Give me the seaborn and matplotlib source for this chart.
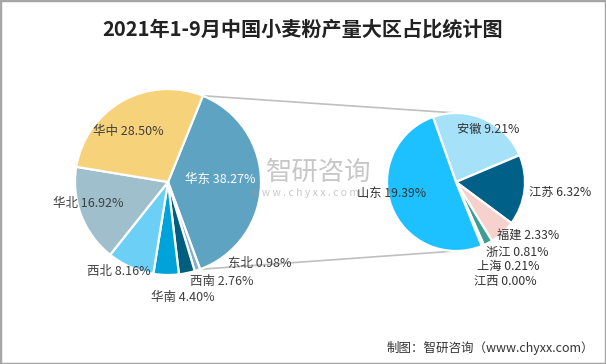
import numpy as np
import matplotlib
matplotlib.use("Agg")
import matplotlib.pyplot as plt
import seaborn as sns
from matplotlib.patches import Rectangle

# data
regions = ["华东", "东北", "西南", "华南", "西北", "华北", "华中"]
region_share = [38.27, 0.98, 2.76, 4.40, 8.16, 16.92, 28.50]
region_colors = ["#5FA3C2", "#86B0C6", "#005E7F", "#00A2DA", "#6BCFF6", "#9FBFCD", "#F6D27B"]

provinces = ["安徽", "江苏", "福建", "浙江", "上海", "江西", "山东"]
province_share = [9.21, 6.32, 2.33, 0.81, 0.21, 0.00, 19.39]
province_colors = ["#A6E1FA", "#006088", "#F7D1CB", "#3A9E93", "#9DC3E6", "#C9C9C9", "#1EC1FF"]

# label anchor positions in pixels (layout only)
region_label_xy = [(220, 179), (260, 263), (222, 281), (183, 297), (119, 271), (88, 204), (128, 132)]
province_label_xy = [(488, 129), (560, 192), (528, 235), (517, 252), (508, 266), (505, 282), (392, 194)]

W, H = 606, 364
sns.set_theme(style="white")
plt.rcParams["font.family"] = ["Noto Sans CJK SC", "DejaVu Sans"]

fig = plt.figure(figsize=(W / 100, H / 100), dpi=100)
ax = fig.add_axes([0, 0, 1, 1])

main_c, main_r = (168, H - 182), 93
sub_c, sub_r = (456, H - 182), 69

wedges, _ = ax.pie(region_share, colors=region_colors, startangle=68, counterclock=False,
                   center=main_c, radius=main_r,
                   wedgeprops=dict(edgecolor="white", linewidth=1.6))
sub_wedges, _ = ax.pie(province_share, colors=province_colors, startangle=109.5, counterclock=False,
                       center=sub_c, radius=sub_r,
                       wedgeprops=dict(edgecolor="white", linewidth=1.6))

# connector lines from the 华东 slice to the second pie
east = wedges[0]
for ang, sy in [(east.theta2, 1), (east.theta1, -1)]:
    a = np.deg2rad(ang)
    x0 = main_c[0] + main_r * np.cos(a)
    y0 = main_c[1] + main_r * np.sin(a)
    ax.plot([x0, sub_c[0]], [y0, sub_c[1] + sy * sub_r], color="#BFBFBF", lw=1.2, zorder=0)

for name, v, (x, y) in zip(regions, region_share, region_label_xy):
    col = "white" if name == "华东" else "#404040"
    ax.text(x, H - y, f"{name} {v:.2f}%", ha="center", va="center", fontsize=9,
            color=col, fontweight="medium")

for name, v, (x, y) in zip(provinces, province_share, province_label_xy):
    ax.text(x, H - y, f"{name} {v:.2f}%", ha="center", va="center", fontsize=8.8,
            color="#333333")

# watermark
ax.text(319, H - 172, "智研咨询", ha="center", va="center", fontsize=19, color="#9A9A9A", alpha=0.55, zorder=5)
ax.text(305, H - 193, "w w w . c h y x x . c o m", ha="center", va="center", fontsize=7.5,
        color="#9A9A9A", alpha=0.55, zorder=5)

ax.set_xlim(0, W)
ax.set_ylim(0, H)
ax.set_aspect("equal")
ax.axis("off")

fig.text(0.5, 1 - 29 / H, "2021年1-9月中国小麦粉产量大区占比统计图", ha="center", va="center",
         fontsize=14.5, fontweight="bold", color="#222222")
fig.text(594 / W, 1 - 348 / H, "制图：智研咨询（www.chyxx.com）", ha="right", va="center",
         fontsize=9, color="#333333")

fig.patches.append(Rectangle((0, 0), 1, 1, transform=fig.transFigure, fill=False,
                             edgecolor="#A6A6A6", linewidth=2.5))

fig.savefig("out.png", dpi=100)
